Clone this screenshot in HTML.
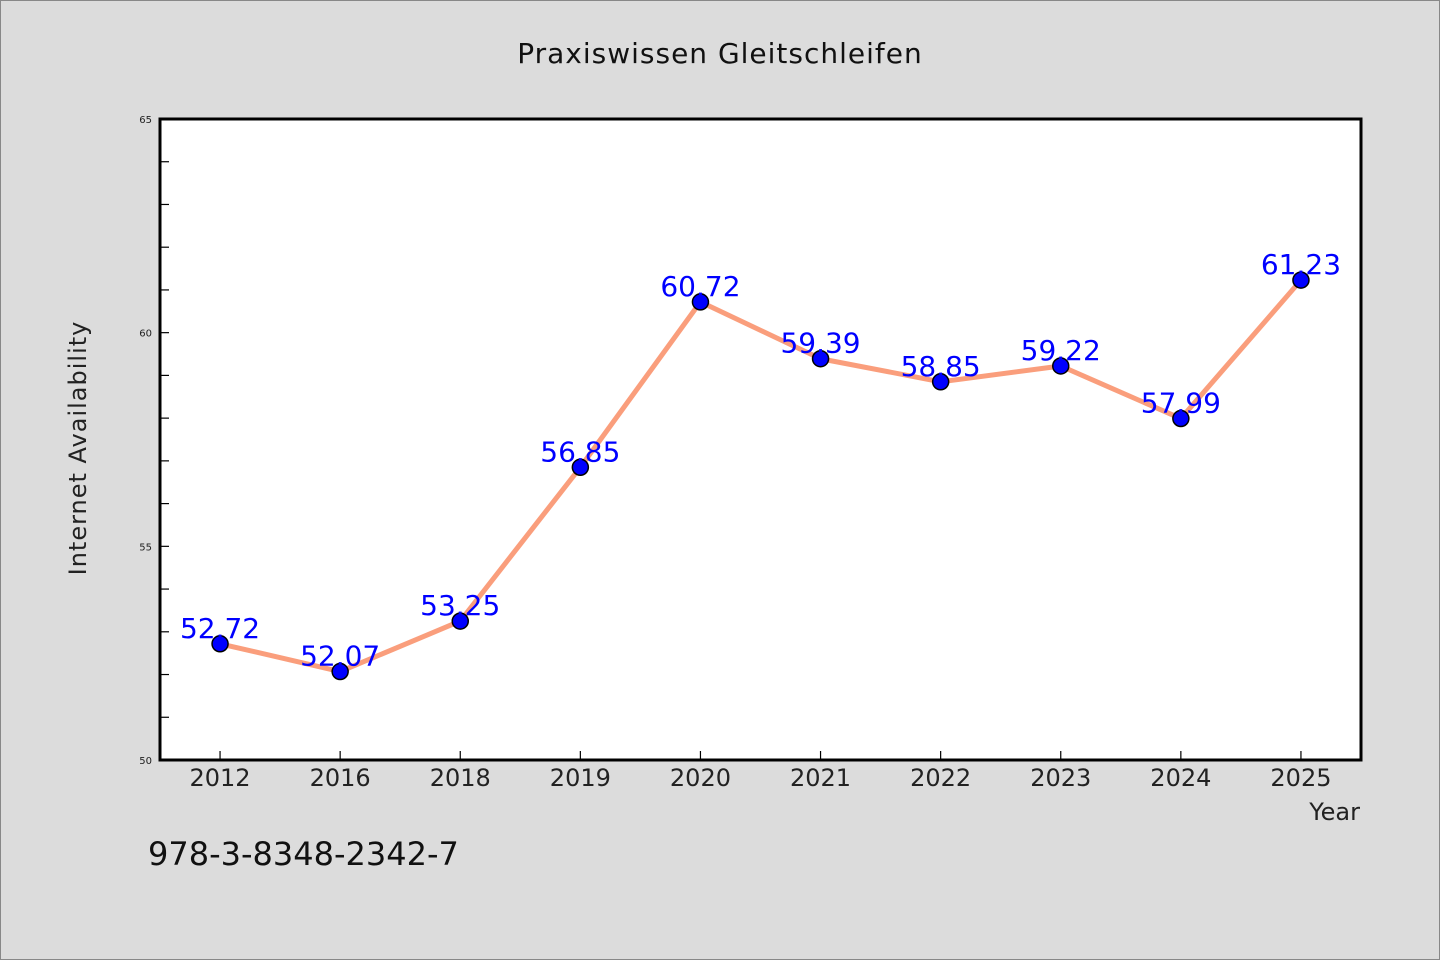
<!DOCTYPE html>
<html><head><meta charset="utf-8"><style>
body{margin:0;background:#dcdcdc;}
svg{display:block;font-family:"WenQuanYi Zen Hei","DejaVu Sans",sans-serif;}
</style></head><body>
<svg id="chart" width="1440" height="960" xmlns="http://www.w3.org/2000/svg">
<rect x="0.5" y="0.5" width="1439" height="959" fill="#dcdcdc" stroke="#888"/>
<text x="720" y="63" text-anchor="middle" font-size="28" fill="#111" letter-spacing="1">Praxiswissen Gleitschleifen</text>
<rect x="160" y="119" width="1201" height="641" fill="#fff"/>
<g id="axes"></g>
<g id="marks"></g>
<rect x="160" y="119" width="1201" height="641" fill="none" stroke="#000" stroke-width="3"/>
<text x="86" y="448" text-anchor="middle" font-size="24" fill="#222" letter-spacing="1" transform="rotate(-90 86 448)">Internet Availability</text>
<text x="1360" y="820" text-anchor="end" font-size="24" fill="#222">Year</text>
<text x="148" y="865" font-size="32" fill="#111">978-3-8348-2342-7</text>
</svg>
<script>
const categories=["2012","2016","2018","2019","2020","2021","2022","2023","2024","2025"];
const values=[52.72,52.07,53.25,56.85,60.72,59.39,58.85,59.22,57.99,61.23];
const yTicks=[50,55,60,65];
const yMin=50,yMax=65;
const ns="http://www.w3.org/2000/svg";
const L=160,R=1361,T=119,B=760;
const band=(R-L)/categories.length;
const xS=i=>L+band*(i+0.5);
const yS=v=>B-(v-yMin)/(yMax-yMin)*(B-T);
function mk(tag,attrs,parent){const e=document.createElementNS(ns,tag);for(const k in attrs)e.setAttribute(k,attrs[k]);parent.appendChild(e);return e;}
const axes=document.getElementById('axes'),marks=document.getElementById('marks');
for(let v=yMin;v<=yMax;v++){
  const t=mk('line',{x1:L,x2:L+9,y1:yS(v),y2:yS(v),stroke:'#000','stroke-width':1.2},axes);
  
  
}
yTicks.forEach(v=>{
  const t=mk('text',{x:152,y:yS(v)+4,'text-anchor':'end','font-size':10,fill:'#222'},axes);
  t.textContent=v;
  
  
});
categories.forEach((c,i)=>{
  const t=mk('line',{x1:xS(i),x2:xS(i),y1:B,y2:B-9,stroke:'#000','stroke-width':1.2},axes);
  
  
  const l=mk('text',{x:xS(i),y:786,'text-anchor':'middle','font-size':24,fill:'#222'},axes);
  l.textContent=c;
  
  
});
const line=mk('polyline',{points:values.map((v,i)=>xS(i)+','+yS(v)).join(' '),fill:'none',stroke:'#fa9e7c','stroke-width':5,'stroke-linejoin':'round'},marks);


values.forEach((v,i)=>{
  const p=mk('circle',{cx:xS(i),cy:yS(v),r:8,fill:'#0000ff',stroke:'#000','stroke-width':1.5},marks);
  
  
  const t=mk('text',{x:xS(i),y:yS(v)-6,'text-anchor':'middle','font-size':28,fill:'#0000ff'},marks);
  t.textContent=v.toFixed(2);
  
  
});
</script>
</body></html>
